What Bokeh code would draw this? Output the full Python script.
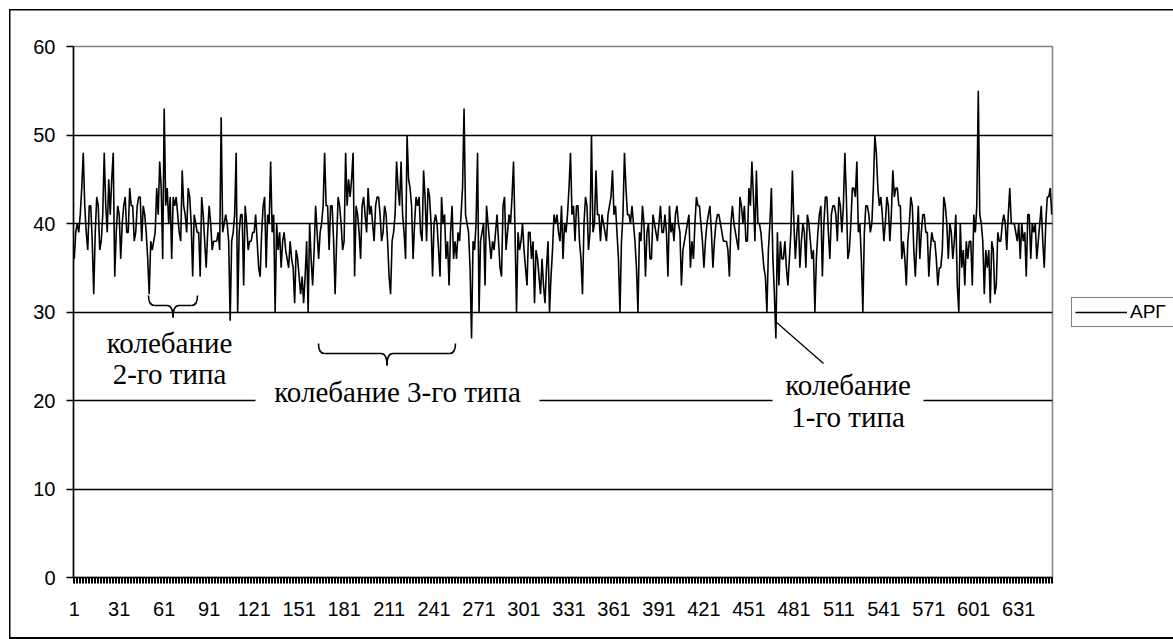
from bokeh.plotting import figure
from bokeh.layouts import row
from bokeh.models import Range1d, FixedTicker, Label, Legend, LegendItem, BoxAnnotation
from bokeh.embed import file_html
from bokeh.resources import INLINE

series_name = "АРГ"

values_001_100 = [
    36, 39, 40, 39, 41, 44, 48, 42, 39, 37,
    42, 42, 38, 32, 39, 43, 42, 37, 38, 41,
    48, 42, 39, 45, 41, 45, 48, 34, 39, 42,
    41, 36, 40, 42, 43, 39, 39, 44, 42, 42,
    38, 39, 42, 43, 43, 38, 42, 41, 39, 36,
    32, 38, 37, 38, 39, 44, 41, 47, 44, 36,
    53, 42, 44, 40, 43, 36, 43, 42, 43, 41,
    39, 38, 46, 42, 41, 39, 44, 43, 40, 34,
    41, 40, 39, 39, 34, 43, 41, 38, 35, 39,
    42, 40, 37, 38, 38, 38, 39, 37, 52, 39,
]
values_101_200 = [
    40, 41, 40, 38, 29, 38, 39, 41, 48, 30,
    39, 41, 41, 33, 42, 40, 37, 38, 38, 39,
    39, 41, 38, 35, 34, 39, 42, 43, 35, 41,
    40, 47, 39, 41, 30, 40, 37, 39, 35, 38,
    39, 37, 36, 35, 38, 36, 35, 31, 37, 36,
    34, 32, 34, 31, 34, 38, 30, 40, 36, 33,
    37, 42, 39, 36, 39, 40, 42, 48, 42, 42,
    37, 42, 42, 38, 32, 38, 43, 42, 40, 37,
    38, 48, 42, 45, 43, 45, 48, 34, 42, 41,
    39, 36, 42, 43, 41, 39, 44, 41, 42, 40,
]
values_201_300 = [
    38, 42, 43, 43, 41, 38, 39, 42, 41, 38,
    34, 32, 38, 39, 41, 47, 44, 42, 47, 41,
    39, 36, 50, 45, 44, 42, 36, 40, 43, 42,
    43, 39, 38, 46, 43, 38, 44, 43, 40, 34,
    40, 41, 40, 37, 34, 43, 40, 41, 36, 38,
    33, 39, 42, 36, 38, 36, 39, 38, 41, 44,
    53, 41, 40, 39, 35, 27, 38, 37, 40, 48,
    30, 38, 39, 40, 33, 42, 40, 38, 36, 38,
    37, 39, 41, 38, 35, 34, 42, 43, 37, 39,
    41, 40, 43, 47, 39, 30, 39, 37, 38, 40,
]
values_301_400 = [
    37, 35, 33, 39, 39, 36, 38, 31, 37, 36,
    34, 32, 36, 33, 31, 35, 38, 30, 34, 37,
    41, 40, 41, 39, 38, 42, 36, 40, 39, 41,
    44, 48, 41, 42, 38, 42, 42, 38, 36, 32,
    40, 43, 42, 37, 39, 50, 39, 40, 46, 41,
    41, 38, 41, 40, 39, 38, 41, 42, 43, 46,
    41, 42, 39, 36, 30, 38, 41, 48, 44, 41,
    41, 40, 42, 40, 38, 35, 30, 39, 38, 42,
    40, 34, 39, 40, 36, 36, 41, 40, 39, 38,
    40, 42, 39, 39, 41, 39, 34, 42, 39, 40,
]
values_401_500 = [
    38, 41, 42, 40, 39, 33, 37, 38, 39, 40,
    41, 35, 38, 36, 40, 43, 42, 42, 40, 38,
    35, 38, 40, 41, 42, 39, 35, 38, 40, 41,
    41, 40, 39, 38, 38, 38, 37, 34, 40, 42,
    40, 39, 38, 37, 43, 42, 40, 42, 38, 38,
    44, 42, 47, 43, 38, 46, 40, 40, 39, 37,
    35, 34, 30, 37, 40, 44, 36, 32, 27, 39,
    33, 38, 36, 36, 38, 35, 33, 36, 39, 46,
    40, 36, 39, 41, 35, 38, 40, 39, 35, 41,
    40, 38, 36, 37, 30, 36, 39, 41, 42, 34,
]
values_501_600 = [
    40, 43, 43, 39, 36, 41, 42, 42, 41, 38,
    43, 42, 39, 42, 48, 43, 36, 37, 40, 44,
    44, 43, 47, 39, 40, 36, 30, 39, 42, 42,
    41, 39, 40, 44, 50, 48, 44, 42, 43, 41,
    38, 40, 43, 42, 38, 41, 46, 43, 44, 44,
    42, 42, 36, 38, 36, 33, 38, 40, 43, 42,
    37, 34, 38, 42, 36, 39, 41, 41, 39, 39,
    34, 37, 39, 38, 38, 36, 33, 35, 35, 37,
    43, 42, 40, 36, 40, 39, 36, 38, 41, 33,
    30, 40, 35, 37, 33, 38, 36, 38, 38, 33,
]
values_601_653 = [
    41, 39, 42, 55, 41, 40, 38, 32, 37, 35,
    37, 31, 38, 37, 32, 33, 39, 38, 38, 40,
    41, 40, 37, 41, 44, 40, 40, 40, 39, 38,
    40, 36, 40, 38, 39, 34, 41, 41, 36, 40,
    39, 40, 36, 38, 40, 42, 38, 35, 40, 43,
    43, 44, 41,
]

x_tick_labels = [1, 31, 61, 91, 121, 151, 181, 211, 241, 271, 301, 331,
                 361, 391, 421, 451, 481, 511, 541, 571, 601, 631]
y_ticks = [0, 10, 20, 30, 40, 50, 60]
grid_values = [10, 20, 30, 40, 50]

note_type2 = "колебание\n2-го типа"
note_type3 = "колебание 3-го типа"
note_type1 = "колебание\n1-го типа"

values = (values_001_100 + values_101_200 + values_201_300 + values_301_400
          + values_401_500 + values_501_600 + values_601_653)
n = len(values)
categories = list(range(1, n + 1))

# ---- layout (page pixels) ----
W, H = 1173, 639
FL, FR, FT, FB = 73, 1052, 46, 577  # plot-area edges
W_MAIN = 1060                      # main figure width, legend strip to its right


def dx(px):
    return 0.5 + (px - FL) / (FR - FL) * n


def dy(py):
    return (FB - py) / (FB - FT) * 60.0


p = figure(width=W_MAIN, height=H, output_backend="svg", toolbar_location=None,
           x_range=Range1d(0.5, n + 0.5), y_range=Range1d(0, 60),
           min_border_left=FL, min_border_right=W_MAIN - FR,
           min_border_top=FT, min_border_bottom=H - FB)
p.background_fill_color = "white"
p.border_fill_color = None
p.outline_line_color = "#808080"
p.outline_line_width = 1.5

AX_FONT = "Liberation Sans"
SERIF = "Liberation Serif"

# x axis
xa = p.xaxis[0]
xa.ticker = FixedTicker(ticks=x_tick_labels,
                        minor_ticks=[i + 0.5 for i in range(0, n + 1)])
xa.axis_line_color = "black"
xa.axis_line_width = 1.5
xa.major_tick_out = 6
xa.major_tick_in = 0
xa.major_tick_line_color = "black"
xa.minor_tick_out = 6
xa.minor_tick_in = 0
xa.minor_tick_line_color = "black"
xa.minor_tick_line_width = 1
xa.major_label_text_font = AX_FONT
xa.major_label_text_font_size = "20px"
xa.major_label_text_color = "black"
xa.major_label_standoff = 18

# y axis
ya = p.yaxis[0]
ya.ticker = FixedTicker(ticks=y_ticks, minor_ticks=[])
ya.axis_line_color = "black"
ya.axis_line_width = 1.5
ya.major_tick_out = 7
ya.major_tick_in = 0
ya.major_tick_line_color = "black"
ya.major_tick_line_width = 1.5
ya.minor_tick_line_color = None
ya.major_label_text_font = AX_FONT
ya.major_label_text_font_size = "20px"
ya.major_label_text_color = "black"
ya.major_label_standoff = 11

p.xgrid.grid_line_color = None
p.ygrid.ticker = FixedTicker(ticks=grid_values)
p.ygrid.grid_line_color = "black"
p.ygrid.grid_line_width = 1.3

line = p.line(categories, values, line_color="black", line_width=1.6)

# white masks behind the notes that cut the 20-gridline
p.add_layout(BoxAnnotation(left=dx(255), right=dx(539), top=dy(380), bottom=dy(406),
                           fill_color="white", fill_alpha=1, line_color=None))
p.add_layout(BoxAnnotation(left=dx(772), right=dx(923), top=dy(366), bottom=dy(432),
                           fill_color="white", fill_alpha=1, line_color=None))


def brace(x0px, x1px, ytop_px, ymid_px, ybot_px, r_px=6):
    xc = (x0px + x1px) / 2
    qs = [
        ((x0px, ytop_px), (x0px, ymid_px), (x0px + r_px, ymid_px)),
        ((xc - r_px, ymid_px), (xc, ymid_px), (xc, ybot_px)),
        ((xc, ybot_px), (xc, ymid_px), (xc + r_px, ymid_px)),
        ((x1px - r_px, ymid_px), (x1px, ymid_px), (x1px, ytop_px)),
    ]
    for (a, c, b) in qs:
        p.quadratic(x0=dx(a[0]), y0=dy(a[1]), x1=dx(b[0]), y1=dy(b[1]),
                    cx=dx(c[0]), cy=dy(c[1]), line_color="black", line_width=1.6)
    p.segment(x0=[dx(x0px + r_px), dx(xc + r_px)], y0=[dy(ymid_px)] * 2,
              x1=[dx(xc - r_px), dx(x1px - r_px)], y1=[dy(ymid_px)] * 2,
              line_color="black", line_width=1.6)


brace(148, 197, 295, 305, 317)
brace(318, 455, 343, 353, 365)
p.segment(x0=[dx(775)], y0=[dy(321)], x1=[dx(823)], y1=[dy(363)],
          line_color="black", line_width=1.3)

# notes
p.add_layout(Label(x=dx(169), y=dy(358), text=note_type2, text_font=SERIF,
                   text_font_size="29px", text_align="center",
                   text_baseline="middle", text_color="black",
                   text_line_height=0.97))
p.add_layout(Label(x=dx(397), y=dy(391), text=note_type3, text_font=SERIF,
                   text_font_size="29px", text_align="center",
                   text_baseline="middle", text_color="black"))
p.add_layout(Label(x=dx(847.5), y=dy(400.5), text=note_type1, text_font=SERIF,
                   text_font_size="29px", text_align="center",
                   text_baseline="middle", text_color="black",
                   text_line_height=1.0))

# legend strip (its box runs off the right edge, as in the original)
W_LEG = W - W_MAIN
p2 = figure(width=W_LEG, height=H, output_backend="svg", toolbar_location=None,
            x_range=Range1d(-2, -1), y_range=Range1d(0, 60),
            x_axis_type=None, y_axis_type=None,
            min_border_left=0, min_border_right=0,
            min_border_top=FT, min_border_bottom=H - FB)
p2.grid.visible = False
p2.outline_line_color = None
p2.background_fill_color = None
p2.border_fill_color = None
# same series, kept outside this strip's visible range: it only feeds the legend
legend_line = p2.line(categories, values, line_color="black", line_width=1.6)
legend = Legend(items=[LegendItem(label=series_name, renderers=[legend_line])],
                location=(1071 - W_MAIN, FB - 327))
legend.label_text_font = AX_FONT
legend.label_text_font_size = "19px"
legend.label_text_color = "black"
legend.border_line_color = "black"
legend.border_line_width = 1.5
legend.padding = 3
legend.spacing = 0
legend.glyph_width = 52
legend.glyph_height = 20
legend.label_height = 20
legend.label_width = 60
legend.label_standoff = 3
legend.background_fill_color = "white"
legend.background_fill_alpha = 1
p2.add_layout(legend, "center")

layout = row(p, p2, spacing=0)
layout.styles = {
    "box-shadow": ("inset 9px 0 0 0 white, inset 0 9px 0 0 white, "
                   "inset 10.5px 0 0 0 black, inset 0 10.5px 0 0 black, "
                   "inset 0 -2px 0 0 black"),
    "background-color": "white",
}

open("out.html", "w").write(file_html(layout, INLINE))
